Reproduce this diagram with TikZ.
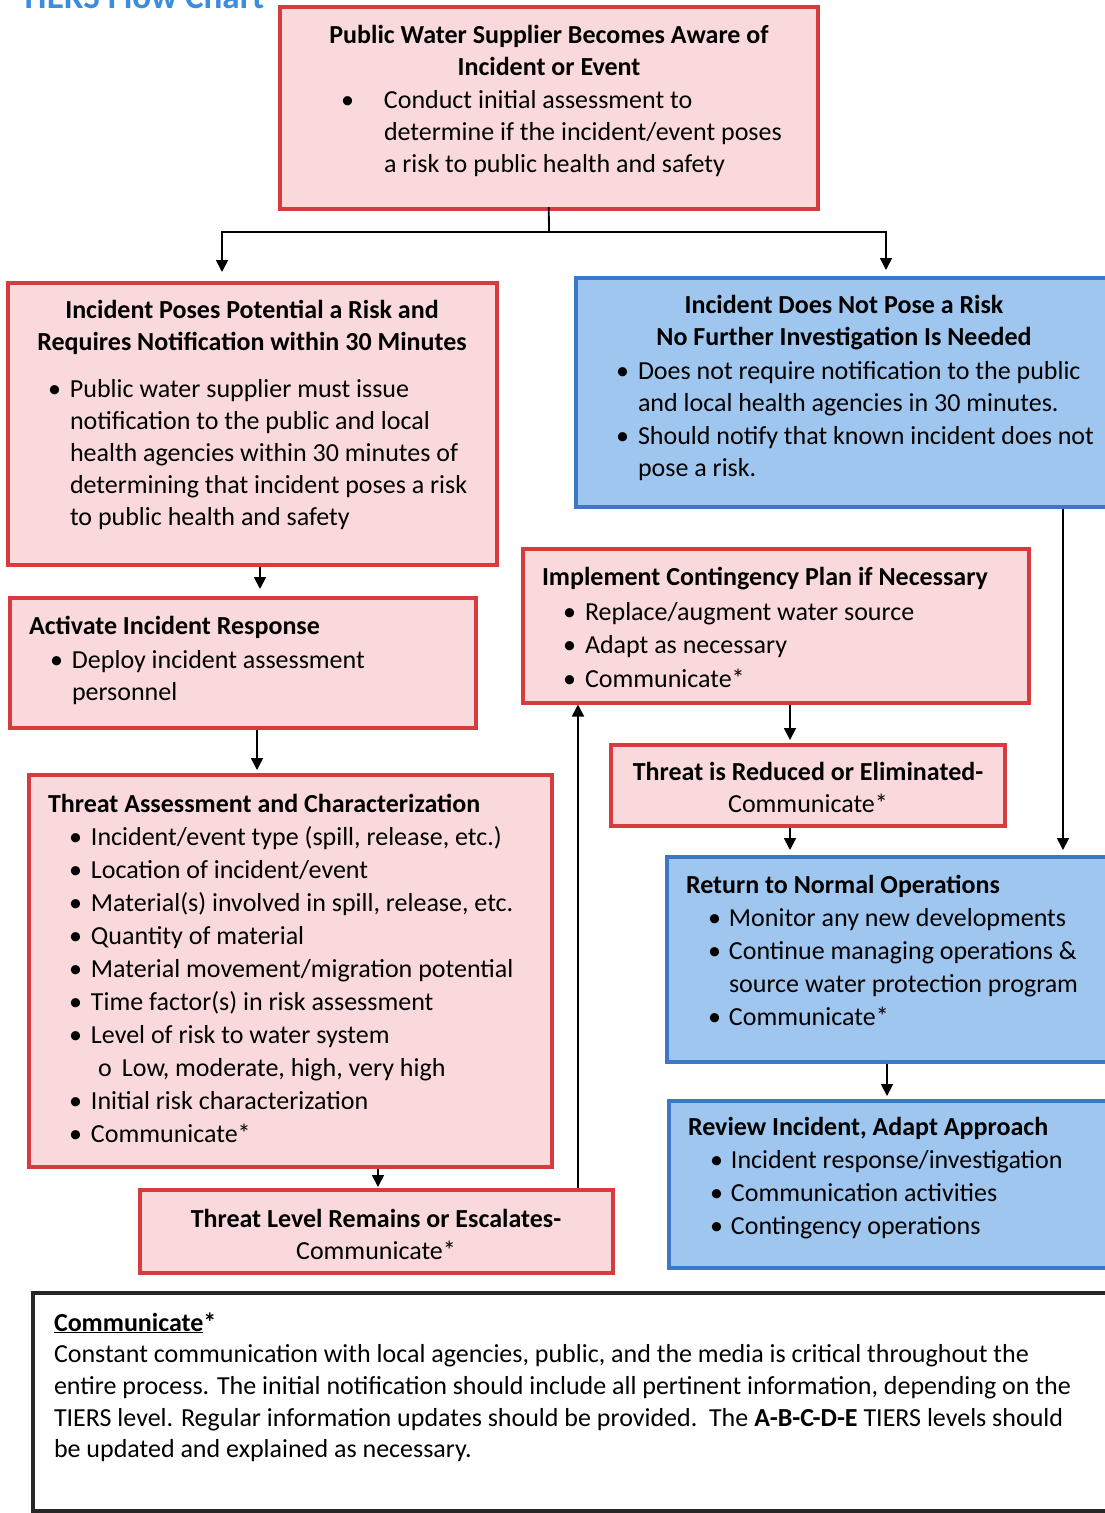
\documentclass[tikz,border=0pt]{standalone}
\usepackage{fontspec}
\setmainfont{Carlito}
\usetikzlibrary{arrows.meta,calc}
\definecolor{redfill}{HTML}{F9D9DB}
\definecolor{redline}{HTML}{D63C3E}
\definecolor{bluefill}{HTML}{9EC6EE}
\definecolor{blueline}{HTML}{3C78C6}
\definecolor{titleblue}{HTML}{3B8CDB}
\tikzset{
  redbox/.style={draw=redline, fill=redfill, line width=3.5pt, anchor=north west, inner sep=0pt},
  bluebox/.style={draw=blueline, fill=bluefill, line width=3.5pt, anchor=north west, inner sep=0pt},
  txt/.style={anchor=north west, inner sep=0pt, outer sep=0pt},
  ctxt/.style={anchor=north, inner sep=0pt, outer sep=0pt},
  arr/.style={line width=1.8pt, -{Triangle[length=12pt,width=12pt]}},
  conn/.style={line width=1.8pt}
}
\newcommand\bsz{\fontsize{26}{32}\selectfont}
\newcommand\bsza{\fontsize{26}{32.5}\selectfont}
\newcommand\bszb{\fontsize{26}{33}\selectfont}
\newcommand\bszc{\fontsize{26}{33.5}\selectfont}
\begin{document}
\begin{tikzpicture}[x=1pt,y=-1pt]
\useasboundingbox (0,0) rectangle (1105,1513);
\clip (0,0) rectangle (1105,1513);
\fill[white] (0,0) rectangle (1105,1513);
% partial title
\node[anchor=base west, inner sep=0pt, text=titleblue, font=\fontsize{35}{40}\selectfont\bfseries] (ttl) at (20,8.5) {TIERS Flow Chart};
% boxes
\node[redbox, minimum width=538pt, minimum height=202pt] (b1) at (278,5) {};
\node[redbox, minimum width=489pt, minimum height=282pt] (b2) at (6,281) {};
\node[bluebox, minimum width=532pt, minimum height=229pt] (b3) at (574,276) {};
\node[redbox, minimum width=466pt, minimum height=130pt] (b4) at (8,596) {};
\node[redbox, minimum width=523pt, minimum height=392pt] (b5) at (27,773) {};
\node[redbox, minimum width=473pt, minimum height=83pt] (b6) at (138,1188) {};
\node[redbox, minimum width=506pt, minimum height=154pt] (b7) at (521,547) {};
\node[redbox, minimum width=394pt, minimum height=81pt] (b8) at (609,743) {};
\node[bluebox, minimum width=441pt, minimum height=205pt] (b9) at (665,855) {};
\node[bluebox, minimum width=439pt, minimum height=167pt] (b10) at (667,1099) {};
\node[draw=black!85, line width=4pt, anchor=north west, inner sep=0pt, minimum width=1080pt, minimum height=218pt] (note) at (31,1291) {};
% texts box1
\node[ctxt] (t1a) at (549,20.6) {\bsz\bfseries\begin{tabular}{@{}c@{}}Public Water Supplier Becomes Aware of\\Incident or Event\end{tabular}};
\node[txt] (t1b) at (341,85.6) {\bsz\begin{tabular}{@{}p{43pt}@{}l@{}}\textbullet & Conduct initial assessment to\\ & determine if the incident/event poses\\ & a risk to public health and safety\end{tabular}};
% box2
\node[ctxt] (t2a) at (252,295.6) {\bsz\bfseries\begin{tabular}{@{}c@{}}Incident Poses Potential a Risk and\\Requires Notification within 30 Minutes\end{tabular}};
\node[txt] (t2b) at (48,374.6) {\bsz\begin{tabular}{@{}p{22pt}@{}l@{}}\textbullet & Public water supplier must issue\\ & notification to the public and local\\ & health agencies within 30 minutes of\\ & determining that incident poses a risk\\ & to public health and safety\end{tabular}};
% box3
\node[ctxt] (t3a) at (844,290.6) {\bsz\bfseries\begin{tabular}{@{}c@{}}Incident Does Not Pose a Risk\\No Further Investigation Is Needed\end{tabular}};
\node[txt] (t3b) at (616,356.6) {\bsza\begin{tabular}{@{}p{22pt}@{}l@{}}\textbullet & Does not require notification to the public\\ & and local health agencies in 30 minutes.\\\textbullet & Should notify that known incident does not\\ & pose a risk.\end{tabular}};
% box4
\node[txt] (t4a) at (29,611.6) {\bsz\bfseries\begin{tabular}{@{}l@{}}Activate Incident Response\end{tabular}};
\node[txt] (t4b) at (50,645.6) {\bsz\begin{tabular}{@{}p{22pt}@{}l@{}}\textbullet & Deploy incident assessment\\ & personnel\end{tabular}};
% box5
\node[txt] (t5a) at (48,789.6) {\bsz\bfseries\begin{tabular}{@{}l@{}}Threat Assessment and Characterization\end{tabular}};
\node[txt] (t5b) at (69,822.6) {\bszb\begin{tabular}{@{}p{22pt}@{}l@{}}\textbullet & Incident/event type (spill, release, etc.)\\
\textbullet & Location of incident/event\\
\textbullet & Material(s) involved in spill, release, etc.\\
\textbullet & Quantity of material\\
\textbullet & Material movement/migration potential\\
\textbullet & Time factor(s) in risk assessment\\
\textbullet & Level of risk to water system\\
 & \hspace{7pt}\makebox[24pt][l]{o}Low, moderate, high, very high\\
\textbullet & Initial risk characterization\\
\textbullet & Communicate*\end{tabular}};
% box6
\node[ctxt] (t6) at (376,1204.6) {\bsz\begin{tabular}{@{}c@{}}\textbf{Threat Level Remains or Escalates-}\\Communicate*\end{tabular}};
% box7
\node[txt] (t7a) at (542,562.6) {\bsz\bfseries\begin{tabular}{@{}l@{}}Implement Contingency Plan if Necessary\end{tabular}};
\node[txt] (t7b) at (563,596.6) {\bszc\begin{tabular}{@{}p{22pt}@{}l@{}}\textbullet & Replace/augment water source\\
\textbullet & Adapt as necessary\\
\textbullet & Communicate*\end{tabular}};
% box8
\node[ctxt] (t8) at (808,757.6) {\bsz\begin{tabular}{@{}c@{}}\textbf{Threat is Reduced or Eliminated-}\\Communicate*\end{tabular}};
% box9
\node[txt] (t9a) at (686,870.6) {\bsz\bfseries\begin{tabular}{@{}l@{}}Return to Normal Operations\end{tabular}};
\node[txt] (t9b) at (708,903.6) {\bszb\begin{tabular}{@{}p{21pt}@{}l@{}}\textbullet & Monitor any new developments\\
\textbullet & Continue managing operations \&\\
 & source water protection program\\
\textbullet & Communicate*\end{tabular}};
% box10
\node[txt] (t10a) at (688,1112.6) {\bsz\bfseries\begin{tabular}{@{}l@{}}Review Incident, Adapt Approach\end{tabular}};
\node[txt] (t10b) at (710,1145.6) {\bszb\begin{tabular}{@{}p{21pt}@{}l@{}}\textbullet & Incident response/investigation\\
\textbullet & Communication activities\\
\textbullet & Contingency operations\end{tabular}};
% note
\node[txt] (tna) at (54,1308.6) {\bsz\begin{tabular}{@{}l@{}}\textbf{\underline{Communicate}*}\end{tabular}};
\node[txt] (tnb) at (54,1340.6) {\fontsize{26}{31.7}\selectfont\begin{tabular}{@{}l@{}}Constant communication with local agencies, public, and the media is critical throughout the\\
entire process. The initial notification should include all pertinent information, depending on the\\
TIERS level. Regular information updates should be provided.\ \ The \textbf{A-B-C-D-E} TIERS levels should\\
be updated and explained as necessary.\end{tabular}};
% connectors
\coordinate (split) at (549,232);
\coordinate (lt) at (222,272);
\coordinate (rt) at (886,270);
\draw[conn] (b1.south |- 0,207) -- (split);
\draw[arr] (split) -| (lt);
\draw[arr] (split) -| (rt);
\draw[arr, shorten >=7pt] (b2.south -| 260,0) -- (b4.north -| 260,0);
\draw[arr, shorten >=3pt] (b4.south -| 257,0) -- (b5.north -| 257,0);
\draw[arr, shorten >=1pt] (b5.south -| 378,0) -- (b6.north -| 378,0);
\draw[arr, shorten >=0pt] (b6.north -| 578,0) -- (b7.south -| 578,0);
\draw[arr, shorten >=3pt] (b7.south -| 790,0) -- (b8.north -| 790,0);
\draw[arr, shorten >=5pt] (b8.south -| 790,0) -- (b9.north -| 790,0);
\draw[arr, shorten >=5pt] (b3.south -| 1063,0) -- (b9.north -| 1063,0);
\draw[arr, shorten >=3pt] (b9.south -| 887,0) -- (b10.north -| 887,0);
\end{tikzpicture}
\end{document}
